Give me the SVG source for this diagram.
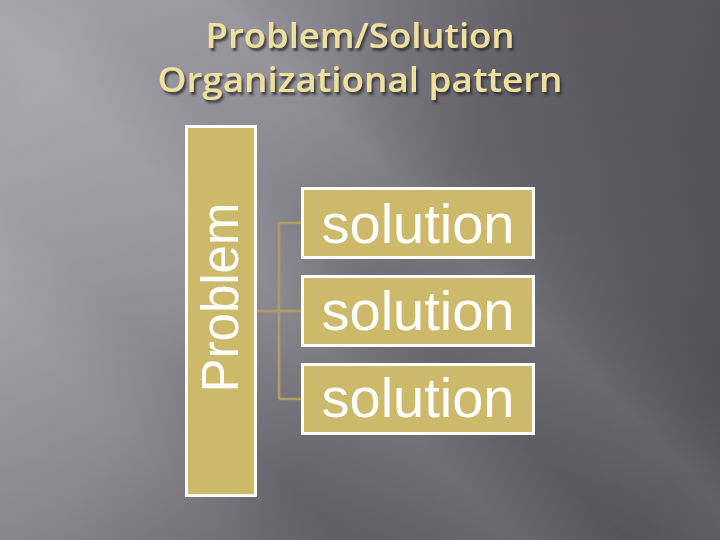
<svg xmlns="http://www.w3.org/2000/svg" width="720" height="540" viewBox="0 0 720 540">
<defs>
<linearGradient id="bg" x1="0" y1="0.3" x2="1" y2="0.7">
<stop offset="0" stop-color="#a4a2aa"/>
<stop offset="0.3" stop-color="#8c8a92"/>
<stop offset="0.55" stop-color="#6a6870"/>
<stop offset="1" stop-color="#57555d"/>
</linearGradient>
<linearGradient id="sheen" gradientUnits="userSpaceOnUse" x1="0" y1="540" x2="540" y2="0">
<stop offset="0" stop-color="#ffffff" stop-opacity="0"/>
<stop offset="0.22" stop-color="#ffffff" stop-opacity="0.07"/>
<stop offset="0.32" stop-color="#ffffff" stop-opacity="0.0"/>
<stop offset="0.48" stop-color="#ffffff" stop-opacity="0.12"/>
<stop offset="0.58" stop-color="#ffffff" stop-opacity="0.02"/>
<stop offset="0.7" stop-color="#ffffff" stop-opacity="0.1"/>
<stop offset="0.85" stop-color="#000000" stop-opacity="0.04"/>
<stop offset="1" stop-color="#000000" stop-opacity="0.08"/>
</linearGradient>
<linearGradient id="vig" x1="0" y1="0" x2="0" y2="1">
<stop offset="0" stop-color="#000000" stop-opacity="0.04"/>
<stop offset="0.5" stop-color="#000000" stop-opacity="0"/>
<stop offset="1" stop-color="#000000" stop-opacity="0.06"/>
</linearGradient>
<filter id="shadow" x="-10%" y="-20%" width="120%" height="150%">
<feDropShadow dx="2" dy="3" stdDeviation="1.2" flood-color="#2a2a2e" flood-opacity="0.8"/>
</filter>
<style>
.title{font-family:"Open Sans","DejaVu Sans",sans-serif;font-size:35px;font-weight:600;fill:#f0e0a0;text-anchor:middle;filter:url(#shadow)}
.box{fill:#cdb96a;stroke:#ffffff;stroke-width:3}
.lbl{font-family:"Liberation Sans",Arial,sans-serif;fill:#ffffff;text-anchor:middle}
.sol{font-size:56px}
.prob{font-size:51px}
.conn{fill:none;stroke:#b09e60;stroke-width:2.5}
</style>
</defs>
<rect width="720" height="540" fill="url(#bg)"/>
<rect width="720" height="540" fill="url(#sheen)"/>
<rect width="720" height="540" fill="url(#vig)"/>
<g id="title">
<text class="title" x="360" y="48" textLength="309" lengthAdjust="spacingAndGlyphs">Problem/Solution</text>
<text class="title" x="360" y="92" textLength="405" lengthAdjust="spacingAndGlyphs">Organizational pattern</text>
</g>
<g id="connectors">
<path class="conn" d="M257 311 H301 M279 223 V399 M279 223 H301 M279 399 H301"/>
</g>
<g id="problem">
<rect class="box" x="186.5" y="126.5" width="69" height="369"/>
<text class="lbl prob" transform="translate(238 297.5) rotate(-90)" x="0" y="0">Problem</text>
</g>
<g id="solution1">
<rect class="box" x="302.5" y="188.5" width="231" height="69"/>
<text class="lbl sol" x="418" y="243">solution</text>
</g>
<g id="solution2">
<rect class="box" x="302.5" y="276.5" width="231" height="69"/>
<text class="lbl sol" x="418" y="330">solution</text>
</g>
<g id="solution3">
<rect class="box" x="302.5" y="364.5" width="231" height="69"/>
<text class="lbl sol" x="418" y="417">solution</text>
</g>
</svg>
